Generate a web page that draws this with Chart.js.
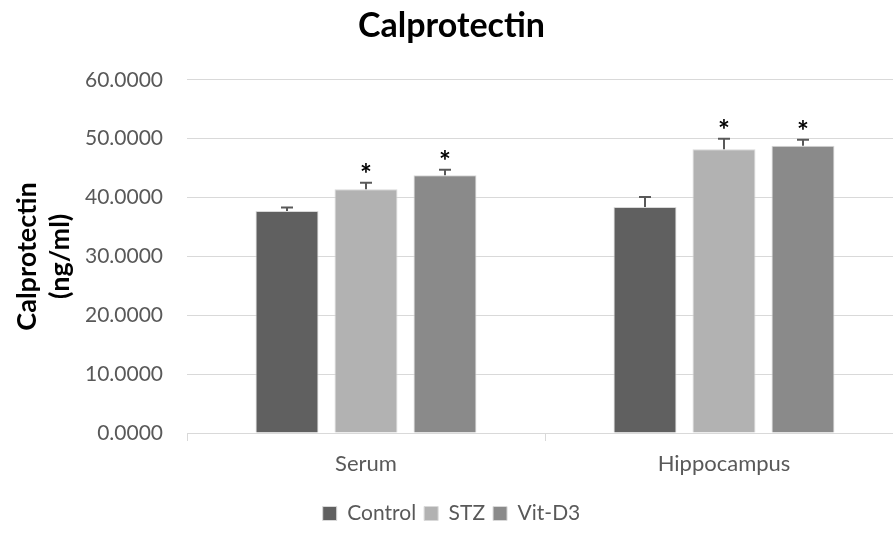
<!DOCTYPE html>
<html>
<head>
<meta charset="utf-8">
<script src="https://cdn.jsdelivr.net/npm/chart.js@4"></script>
<style>
  html, body { margin: 0; padding: 0; background: #fff; overflow: hidden; }
  #wrap { width: 910px; height: 534px; }
</style>
</head>
<body>
<div id="wrap"><canvas id="chart" width="910" height="534"></canvas></div>
<script>
const categories = ["Serum", "Hippocampus"];
const seriesNames = ["Control", "STZ", "Vit-D3"];
const controlValues = [37.7, 38.4];
const stzValues = [41.4, 48.2];
const vitD3Values = [43.8, 48.8];
const controlErrors = [0.6, 1.7];
const stzErrors = [1.1, 1.8];
const vitD3Errors = [0.9, 1.0];
const controlStars = [false, false];
const stzStars = [true, true];
const vitD3Stars = [true, true];
const yTicks = [0, 10, 20, 30, 40, 50, 60];

const colors = ["#606060", "#b2b2b2", "#8a8a8a"];
const errors = [controlErrors, stzErrors, vitD3Errors];
const stars = [controlStars, stzStars, vitD3Stars];
const FONT = "Lato, 'Open Sans', sans-serif";

// error bars (upper half only) and significance stars
const errorBarPlugin = {
  id: "errorBars",
  afterDatasetsDraw(chart) {
    const ctx = chart.ctx;
    const y = chart.scales.y;
    ctx.save();
    chart.data.datasets.forEach((ds, i) => {
      const meta = chart.getDatasetMeta(i);
      meta.data.forEach((bar, j) => {
        const top = y.getPixelForValue(ds.data[j] + errors[i][j]);
        ctx.strokeStyle = "#595959";
        ctx.lineWidth = 2;
        ctx.beginPath();
        ctx.moveTo(bar.x, bar.y);
        ctx.lineTo(bar.x, top);
        ctx.moveTo(bar.x - 6, top);
        ctx.lineTo(bar.x + 6, top);
        ctx.stroke();
        if (stars[i][j]) {
          ctx.fillStyle = "#000";
          ctx.font = "bold 28px " + FONT;
          ctx.textAlign = "center";
          ctx.textBaseline = "middle";
          ctx.fillText("*", bar.x, top - 8);
        }
      });
    });
    ctx.restore();
  }
};

new Chart(document.getElementById("chart"), {
  type: "bar",
  data: {
    labels: categories,
    datasets: [
      { label: seriesNames[0], data: controlValues, backgroundColor: colors[0] },
      { label: seriesNames[1], data: stzValues, backgroundColor: colors[1] },
      { label: seriesNames[2], data: vitD3Values, backgroundColor: colors[2] }
    ].map(d => Object.assign(d, {
      borderColor: "#d9d9d9",
      borderWidth: 1,
      categoryPercentage: 0.662,
      barPercentage: 0.797
    }))
  },
  options: {
    responsive: false,
    animation: false,
    layout: { padding: { left: 0, right: 7, top: 0, bottom: 0 } },
    plugins: {
      title: {
        display: true,
        text: "Calprotectin",
        color: "#000",
        font: { family: FONT, size: 34, weight: "bold", lineHeight: 1.2 },
        padding: { top: 6, bottom: 33 }
      },
      legend: {
        position: "bottom",
        labels: {
          color: "#595959",
          font: { family: FONT, size: 21 },
          boxWidth: 14,
          boxHeight: 14,
          padding: 8
        }
      },
      tooltip: { enabled: false }
    },
    scales: {
      x: {
        grid: {
          offset: true,
          drawOnChartArea: false,
          color: "#d9d9d9",
          tickLength: 8
        },
        border: { color: "#d9d9d9" },
        ticks: {
          color: "#595959",
          font: { family: FONT, size: 22 },
          padding: 10
        },
        afterFit(s) { s.height = 62; }
      },
      y: {
        min: 0,
        max: 60,
        afterBuildTicks(s) { s.ticks = yTicks.map(v => ({ value: v })); },
        grid: { color: "#d9d9d9", drawTicks: false },
        border: { display: false },
        ticks: {
          color: "#595959",
          font: { family: FONT, size: 21 },
          padding: 24,
          callback: v => Number(v).toFixed(4)
        },
        title: {
          display: true,
          text: ["Calprotectin", "(ng/ml)"],
          color: "#000",
          font: { family: FONT, size: 27, weight: "bold", lineHeight: 1.25 },
          padding: { top: 10, bottom: 0 }
        },
        afterFit(s) { s.width = 187; }
      }
    }
  },
  plugins: [errorBarPlugin]
});
</script>
</body>
</html>
